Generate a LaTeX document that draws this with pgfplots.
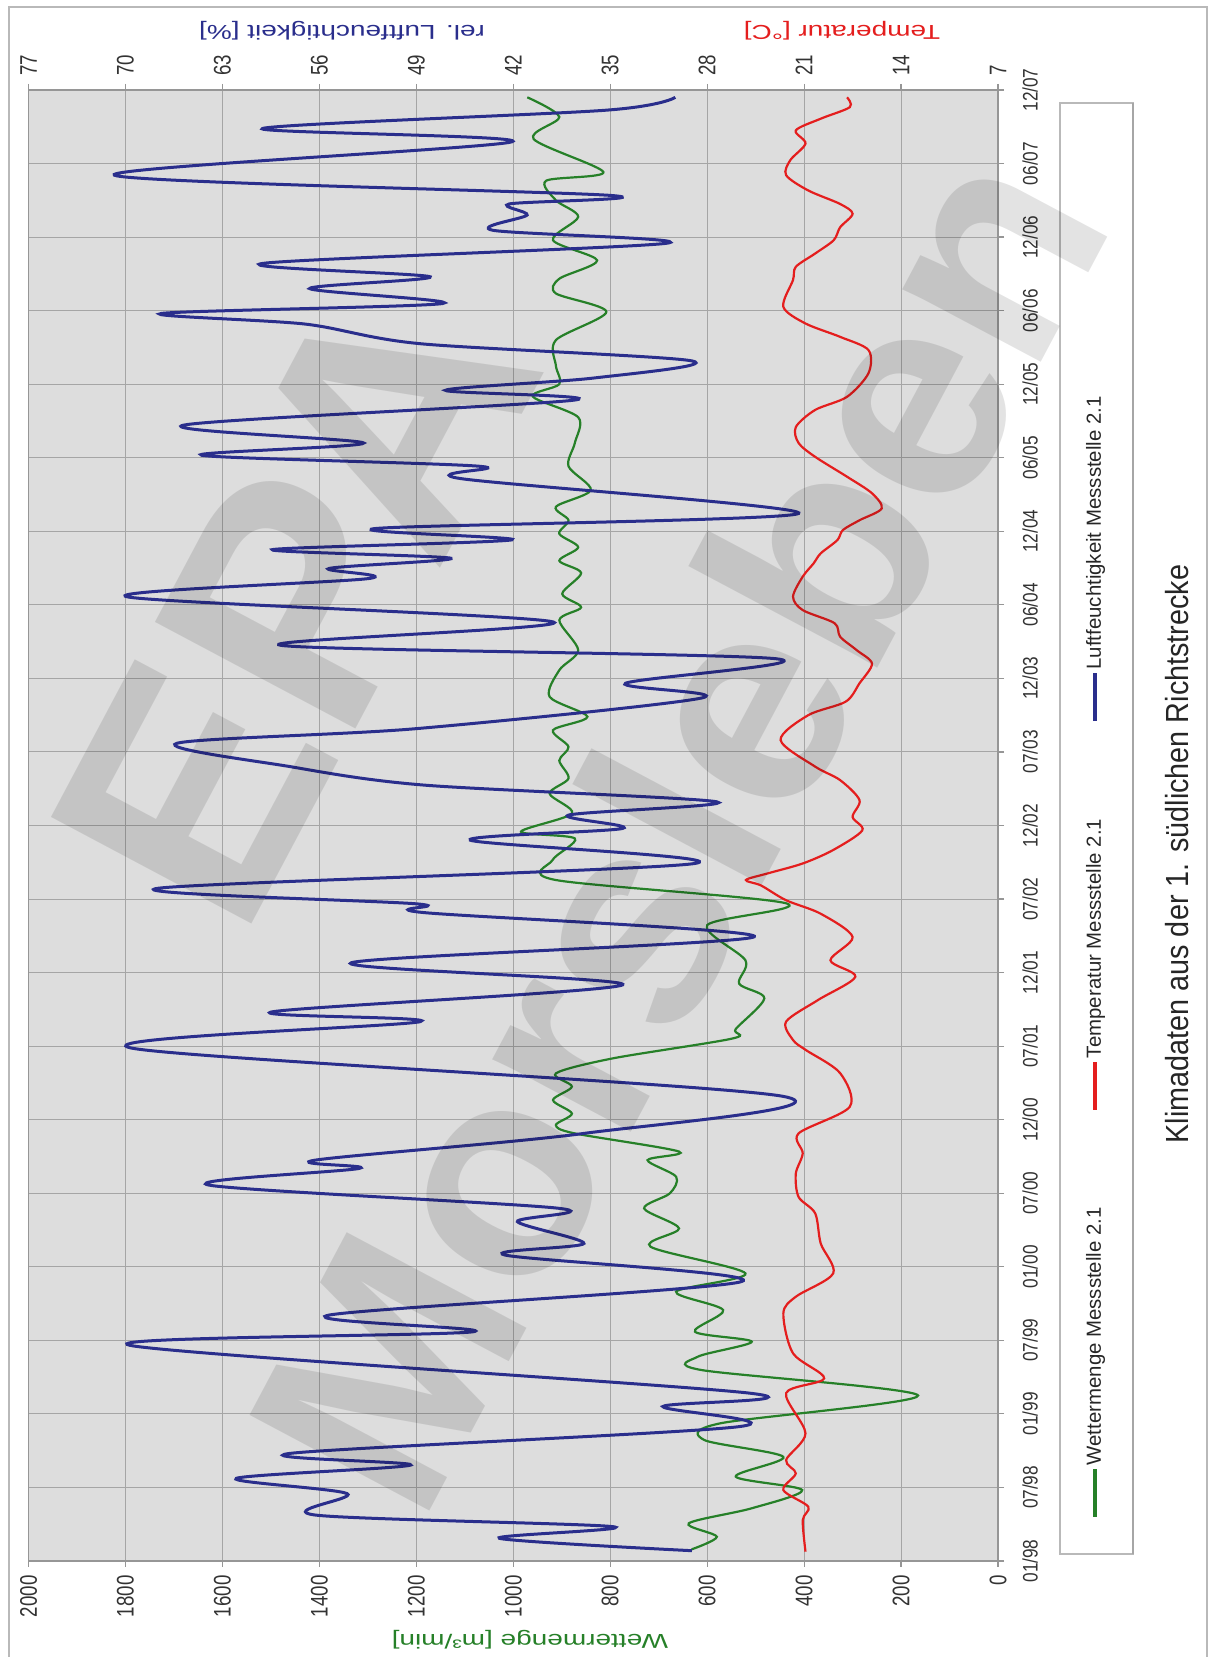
\documentclass[border=0pt]{standalone}
\usepackage{pgfplots}
\pgfplotsset{compat=1.18}
\usepackage{graphicx}
\usepackage{fontspec}
\setmainfont{Liberation Sans}
\newfontfamily\tickfont{Liberation Sans}[FakeStretch=0.78]
\newfontfamily\datefont{Liberation Sans}[FakeStretch=0.82]
\newfontfamily\titlefont{Liberation Sans}[FakeStretch=0.9]
\definecolor{plotbg}{RGB}{221,221,221}
\definecolor{cblue}{RGB}{42,46,140}
\definecolor{cgreen}{RGB}{38,128,40}
\definecolor{cred}{RGB}{228,30,30}
\definecolor{gridc}{RGB}{165,165,165}
\definecolor{framec}{RGB}{150,150,150}
\begin{document}
\begin{tikzpicture}
\begin{scope}[transform canvas={shift={(605.5pt,0pt)},rotate=90}]
% outer frame
\draw[gray!55, line width=0.9pt] (-5pt,2pt) rectangle (825pt,601pt);
\begin{axis}[
  at={(48pt,106.5pt)}, anchor=south west, scale only axis,
  width=735.5pt, height=484.75pt,
  xmin=0, xmax=120, ymin=0, ymax=2000,
  xtick={0,6,...,120},
  xticklabels={01/98,07/98,01/99,07/99,01/00,07/00,12/00,07/01,12/01,07/02,12/02,07/03,12/03,06/04,12/04,06/05,12/05,06/06,12/06,06/07,12/07},
  ytick={0,200,...,2000},
  xtick pos=bottom, ytick pos=left,
  tick align=outside, major tick length=3pt,
  grid=major, major grid style={gridc, line width=0.5pt},
  axis line style={framec, line width=0.9pt},
  tick style={framec, line width=0.6pt},
  axis background/.style={fill=plotbg},
  /pgf/number format/assume math mode=true,
  /pgf/number format/1000 sep={},
  scaled y ticks=false,
  yticklabel style={font=\tickfont\fontsize{12}{14}\selectfont, text=black!80, anchor=east, inner sep=0pt, xshift=-4pt},
  xticklabel style={font=\datefont\fontsize{10.5}{12}\selectfont, text=black!80, anchor=north, inner sep=0pt, yshift=-9pt},
]
\addplot[cgreen, line width=1.1pt, smooth, tension=0.5] coordinates {
(0.95,632) (1.98,580) (3.07,638) (4.3,508) (5.79,404) (6.88,541) (8.5,443) (9.87,606)
(11.23,573) (13.5,165) (15.58,612) (16.67,619) (17.89,508) (18.7,625)
(20.47,567) (21.97,664) (23.46,521) (25.64,717) (27.13,658) (28.76,730) (29.99,677)
(31.35,664) (32.7,723) (33.4,658) (34.88,873) (35.56,912) (36.5,879) (37.6,918)
(38.7,879) (39.78,912) (41.0,795) (42.63,547) (43.4,541) (45.9,482) (47.1,534)
(49.0,521) (51.87,600) (53.64,436) (55.55,912) (57.18,919) (58.94,873) (59.49,984)
(60.98,879) (62.6,925) (63.84,886) (65.3,905) (66.42,886) (67.78,918) (68.87,847)
(70.5,925) (72.67,905) (74.3,866) (76.75,905) (77.8,860) (78.9,899) (80.6,860)
(81.6,905) (82.7,866) (83.8,905) (84.9,886) (86.0,912) (87.36,840) (89.3,886)
(91.2,873) (93.3,866) (95.0,960) (96.0,905) (97.5,912) (99.6,912) (101.9,808)
(103.4,912) (104.6,905) (106.1,827) (107.75,918) (109.65,866) (111.0,912) (112.6,932)
(113.3,814) (116.0,958) (117.8,905) (119.4,971)
};
\end{axis}
\begin{axis}[
  at={(48pt,106.5pt)}, anchor=south west, scale only axis,
  width=735.5pt, height=484.75pt,
  xmin=0, xmax=120, ymin=7, ymax=77,
  axis y line*=right, axis x line=none,
  ytick={7,14,...,77},
  tick align=outside, major tick length=3pt,
  axis line style={framec, line width=0.9pt},
  tick style={framec, line width=0.6pt},
  /pgf/number format/assume math mode=true,
  yticklabel style={font=\tickfont\fontsize{12}{14}\selectfont, text=black!80, anchor=west, inner sep=0pt, xshift=4pt},
  legend columns=3,
  legend cell align=left,
  legend image code/.code={\draw[#1, line width=1.6pt] (0pt,0pt) -- (24pt,0pt);},
  legend style={at={(0.0245,-0.1)}, anchor=west, draw=none, fill=none,
    font=\fontsize{10.2}{12}\selectfont, text=black!85,
    nodes={inner sep=1pt},
    /tikz/every even column/.append style={column sep=47pt}},
]
\addlegendimage{cgreen}
\addlegendentry{Wettermenge Messstelle 2.1}
\addplot[cred, line width=1.1pt, smooth, tension=0.5] coordinates {
(0.76,20.9) (3.34,21.1) (4.43,20.7) (5.79,22.5) (7.15,21.6) (8.24,22.3) (10.41,20.9)
(13.7,22.3) (14.9,19.55) (16.94,21.8) (20.2,22.5) (21.56,21.6) (23.46,18.9) (25.9,19.8)
(28.36,20.2) (29.7,21.4) (31.6,21.6) (33.25,21.1) (34.88,21.4) (37.06,17.7) (39.8,18.4)
(41.7,20.9) (42.5,21.8) (44.0,22.3) (45.76,20.0) (47.66,17.3) (49.0,19.1) (50.9,17.5)
(52.8,19.8) (53.9,22.3) (55.1,24.1) (55.55,25.2) (56.1,23.6) (56.9,21.1) (58.0,18.9)
(59.6,16.8) (60.7,17.5) (62.07,17.0) (63.7,18.4) (64.8,20.2) (66.97,22.7) (69.0,20.7)
(70.1,18.0) (71.6,17.0) (73.2,16.1) (74.3,17.2) (75.4,18.4) (76.5,18.8) (77.57,21.1)
(78.66,21.8) (80.3,21.1) (81.4,20.3) (82.2,19.8) (83.28,18.6) (84.1,18.2) (84.9,17.0)
(85.86,15.4) (87.1,16.1) (88.45,17.9) (90.07,20.2) (91.2,21.4) (92.5,21.6) (93.9,20.2)
(94.97,17.9) (96.9,16.35) (98.78,16.35) (99.86,18.4) (100.95,20.9) (102.31,22.5)
(104.5,21.8) (105.57,21.6) (106.66,20.2) (107.75,18.86) (108.8,18.4) (109.9,17.5)
(110.7,18.4) (111.8,20.7) (113.05,22.3) (114.27,22.0) (115.63,20.9) (116.7,21.6)
(117.67,19.77) (118.6,17.7) (119.4,17.9)
};
\addlegendentry{Temperatur Messstelle 2.1}
\addplot[cblue, line width=1.5pt, smooth, tension=0.5] coordinates {
(0.84,29.1) (1.85,43.0) (2.8,34.8) (3.75,56.3) (5.5,54.0) (6.74,62.0) (7.83,49.4)
(8.78,58.1) (10.96,25.7) (12.6,31.2) (13.7,25.0) (17.6,69.7) (18.7,44.9) (20.06,55.3)
(22.8,25.5) (24.96,42.6) (25.9,36.9) (27.68,41.7) (28.77,38.7) (30.67,64.0) (32.03,53.1)
(32.7,56.3) (34.88,36.9) (37.9,22.5) (41.85,69.6) (44.0,48.7)
(44.8,59.4) (47.0,34.1) (48.8,53.7) (50.92,24.6) (52.9,48.5) (53.6,48.9) (54.87,67.7)
(56.9,28.9) (58.8,45.1) (59.76,34.1) (60.85,38.0) (61.93,27.3) (63.3,48.5) (64.8,58.1)
(66.7,66.3) (67.9,49.0) (70.4,28.4) (71.6,33.9) (73.6,23.0) (74.7,58.8) (76.6,39.1)
(78.66,69.9) (80.15,52.4) (80.97,55.3) (81.8,46.5) (82.5,59.4) (83.3,42.1) (84.23,51.9)
(85.45,21.4) (88.3,45.8) (89.3,44.4) (90.2,64.5) (91.2,52.8) (92.66,65.8) (94.7,37.6)
(95.5,46.9) (96.5,36.2) (97.9,29.1) (99.3,48.7) (100.9,57.0) (101.77,67.4) (102.58,47.1)
(103.8,56.7) (104.76,48.0) (105.85,60.1) (107.5,30.9) (108.56,43.5) (109.8,41.0)
(110.7,42.3) (111.4,35.0) (113.05,70.8) (115.77,42.1) (116.86,60.1) (118.35,35.3)
(119.4,30.3)
};
\addlegendentry{Luftfeuchtigkeit Messstelle 2.1}
\end{axis}
% legend frame
\draw[gray!55, line width=0.9pt] (51.5pt,39pt) rectangle (777pt,75.5pt);
\draw[gray!70, line width=1.4pt] (51.5pt,39pt) -- (777pt,39pt);
% axis titles
\node[rotate=90, text=cgreen, inner sep=0pt] at (8.5pt,340.5pt)
  {\scalebox{1}[0.72]{\fontsize{14}{16}\selectfont Wettermenge [m³/min]}};
\node[rotate=90, text=cblue, inner sep=0pt] at (813pt,434.5pt)
  {\scalebox{1}[0.72]{\fontsize{14}{16}\selectfont rel. Luftfeuchtigkeit [\%]}};
\node[rotate=90, text=cred, inner sep=0pt] at (813pt,184.5pt)
  {\scalebox{1}[0.72]{\fontsize{14}{16}\selectfont Temperatur [°C]}};
% chart title
\node[anchor=base, inner sep=0pt, text=black!85] at (401.5pt,11.5pt)
  {\titlefont\fontsize{16}{18}\selectfont Klimadaten aus der 1. südlichen Richtstrecke};
% watermark
\node[rotate=-28, text=black, text opacity=0.11, inner sep=0pt] at (528pt,458pt)
  {\fontsize{165}{165}\selectfont\bfseries EPA};
\node[rotate=-28, text=black, text opacity=0.11, inner sep=0pt] at (416pt,268pt)
  {\fontsize{148}{148}\selectfont\bfseries Morsleben};
\end{scope}
\pgfresetboundingbox
\useasboundingbox (0,0) rectangle (605.5pt,828.5pt);
\end{tikzpicture}
\end{document}
